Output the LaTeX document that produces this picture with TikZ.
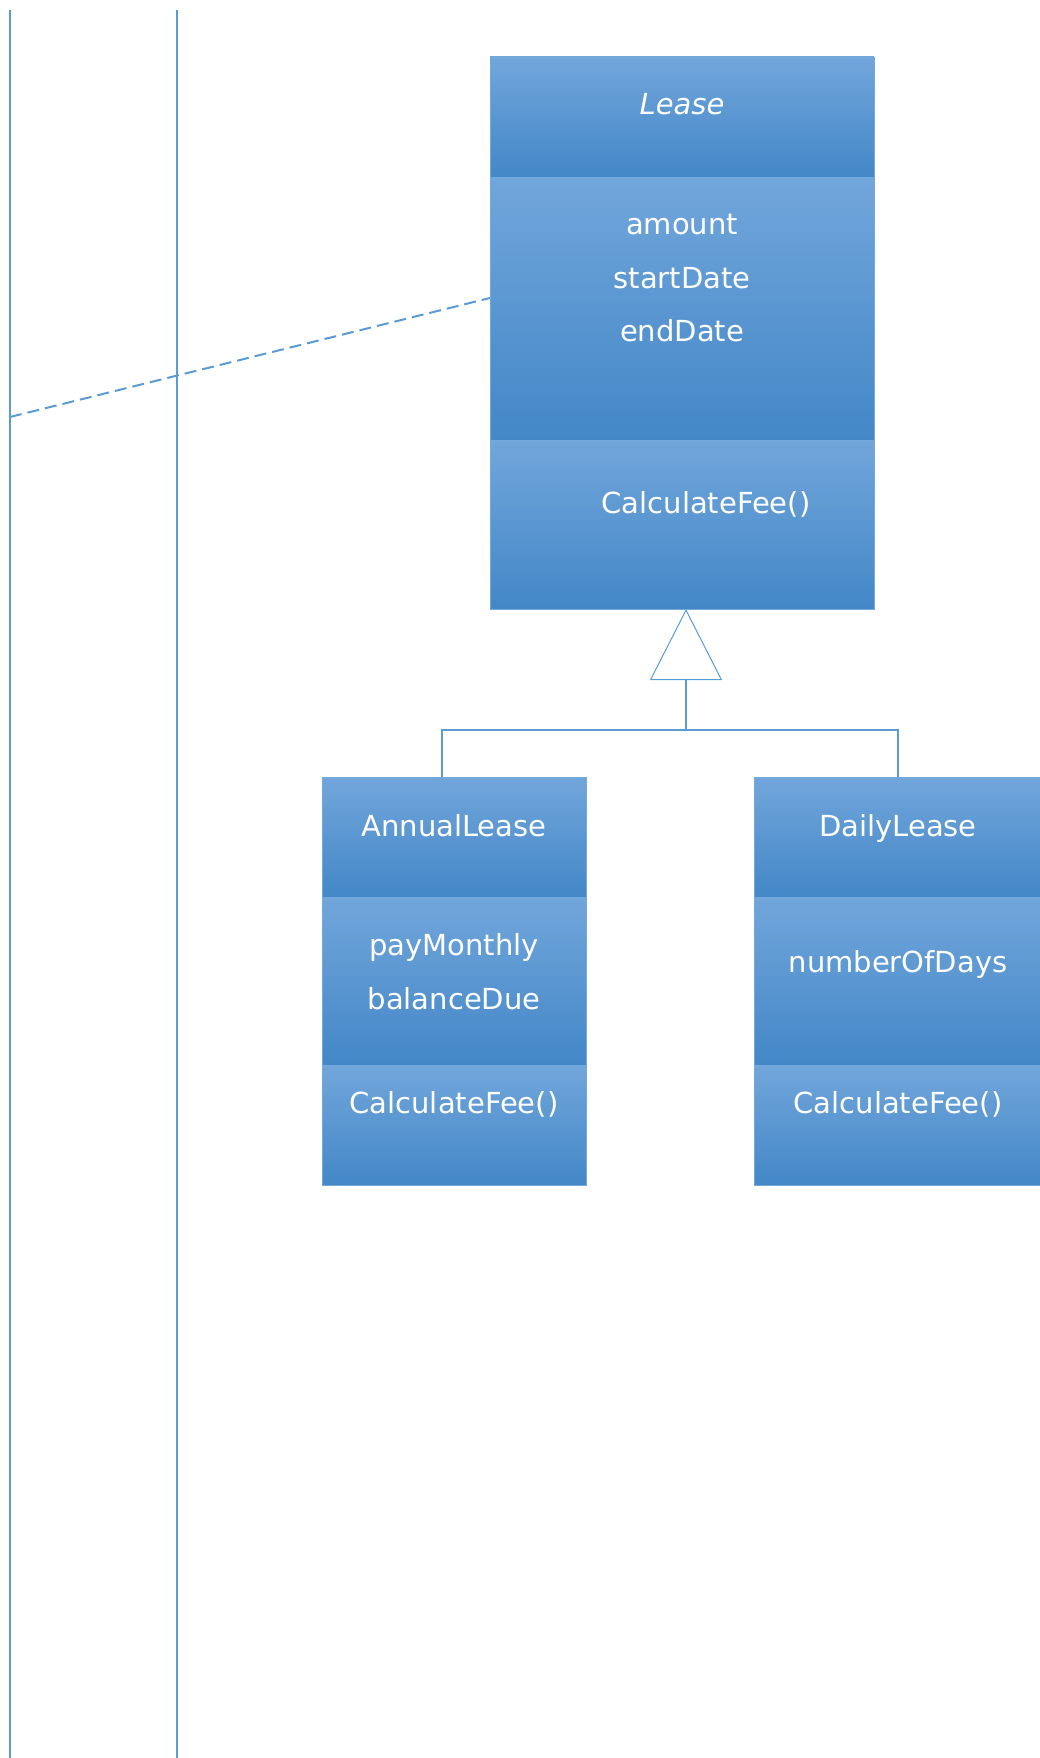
\documentclass[tikz,border=0pt]{standalone}
\usepackage{fontspec}
\setmainfont{DejaVu Sans}
\usetikzlibrary{arrows.meta,calc}
\definecolor{umlblue}{HTML}{5B9BD5}
\definecolor{shadetop}{HTML}{71A6DB}
\definecolor{shademid}{HTML}{579BDD}
\definecolor{shadebot}{HTML}{4387C7}

\begin{document}
\begin{tikzpicture}[
  x=1pt, y=-1pt,
  part/.style={draw=umlblue!85, line width=0.8pt, top color=shadetop, middle color=shademid, bottom color=shadebot, anchor=north west, inner sep=0pt, outer sep=0pt},
  entry/.style={text=white, anchor=base, inner sep=0pt, font=\fontsize{29}{35}\selectfont},
  wire/.style={draw=umlblue, line width=2pt},
  inherit/.style={wire, -{Triangle[open, length=71pt, width=72pt, line width=1pt]}}
]
\useasboundingbox (0,0) rectangle (1040,1758);

% lifelines
\draw[wire] (10,10) -- (10,1760);
\draw[wire] (177,10) -- (177,1760);

% base class
\node[part, minimum width=384pt, minimum height=120pt] (leasehead) at (490,57) {};
\node[part, minimum width=384pt, minimum height=263pt] (leaseattr) at (leasehead.south west) {};
\node[part, minimum width=384pt, minimum height=169pt] (leaseops) at (leaseattr.south west) {};
\node[entry] (leasename) at (682,115) {\itshape Lease};
\node[entry] (amount) at (682,234) {amount};
\node[entry] (startdate) at (682,288) {startDate};
\node[entry] (enddate) at (682,341) {endDate};
\node[entry] (leasefee) at (706,513) {CalculateFee()};

% subclasses
\node[part, minimum width=264pt, minimum height=120pt] (annualhead) at (322,777) {};
\node[part, minimum width=264pt, minimum height=168pt] (annualattr) at (annualhead.south west) {};
\node[part, minimum width=264pt, minimum height=120pt] (annualops) at (annualattr.south west) {};
\node[entry] (annualname) at (454,836) {AnnualLease};
\node[entry] (paymonthly) at (454,955) {payMonthly};
\node[entry] (balancedue) at (454,1009) {balanceDue};
\node[entry] (annualfee) at (454,1113) {CalculateFee()};

\node[part, minimum width=288pt, minimum height=120pt] (dailyhead) at (754,777) {};
\node[part, minimum width=288pt, minimum height=168pt] (dailyattr) at (dailyhead.south west) {};
\node[part, minimum width=288pt, minimum height=120pt] (dailyops) at (dailyattr.south west) {};
\node[entry] (dailyname) at (898,836) {DailyLease};
\node[entry] (numdays) at (898,972) {numberOfDays};
\node[entry] (dailyfee) at (898,1113) {CalculateFee()};

% generalization
\coordinate (fork) at (686,730);
\draw[inherit] (fork) -- (fork |- leaseops.south);
\draw[wire] (fork) -| ($(annualhead.north west)+(120,0)$);
\draw[wire] (fork) -| (dailyhead.north);

% dependency
\coordinate (dashend) at (10,417);
\draw[wire, dash pattern=on 12pt off 6pt] (dashend) -- ($(leaseattr.north west)!0.46!(leaseattr.south west)$);
\end{tikzpicture}
\end{document}
